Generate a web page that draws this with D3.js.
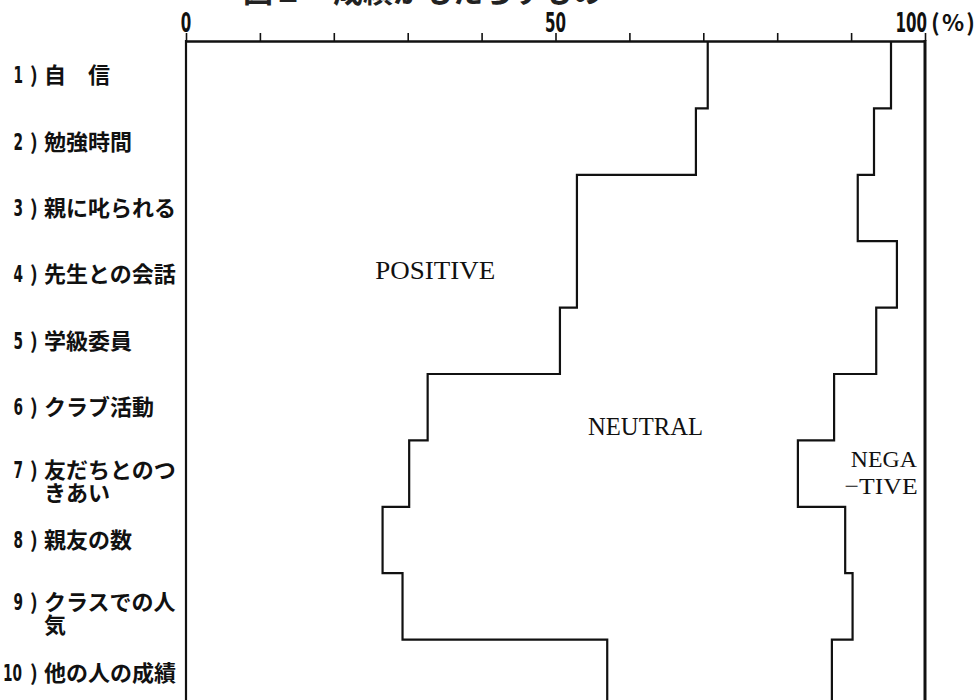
<!DOCTYPE html>
<html>
<head>
<meta charset="utf-8">
<script src="https://cdn.jsdelivr.net/npm/d3@7"></script>
<style>
  body { margin: 0; background: #fff; }
  svg { display: block; }
</style>
</head>
<body>
<svg id="chart" width="979" height="700"></svg>
<script>
// 項目 (番号とラベル)
const itemNumbers = ["1", "2", "3", "4", "5", "6", "7", "8", "9", "10"];
const itemLabels = [
  ["自　信"],
  ["勉強時間"],
  ["親に叱られる"],
  ["先生との会話"],
  ["学級委員"],
  ["クラブ活動"],
  ["友だちとのつ", "きあい"],
  ["親友の数"],
  ["クラスでの人", "気"],
  ["他の人の成績"]
];
// 割合 (%)
const positive = [70.6, 69.0, 52.9, 52.9, 50.6, 32.7, 30.2, 26.6, 29.3, 57.0];
const negative = [4.6, 6.9, 9.1, 3.8, 6.6, 12.3, 17.2, 10.8, 9.8, 12.6];
const minorTicks = [0, 10, 20, 30, 40, 50, 60, 70, 80, 90, 100];
const tickLabels = [0, 50, 100];
const title = "図２　成績がもたらすもの";

function drawChart() {
  const svg = d3.select("#chart");
  const margin = { top: 42, right: 54, bottom: -6, left: 186 };
  const width = 979, height = 700;
  const narrow = "'Liberation Sans Narrow', 'DejaVu Sans Condensed', sans-serif";
  const gothic = "'Noto Sans CJK JP', sans-serif";
  const serif = "'Liberation Serif', 'DejaVu Serif', serif";

  const x = d3.scaleLinear()
    .domain([0, 100])
    .range([margin.left, width - margin.right]);

  const y = d3.scaleBand()
    .domain(itemNumbers)
    .range([margin.top, height - margin.bottom]);

  // title (cut off at top edge)
  svg.append("text")
    .attr("x", 243)
    .attr("y", 2)
    .style("font-family", gothic)
    .style("font-weight", "bold")
    .style("font-size", "30px")
    .style("fill", "#222")
    .text(title);

  // top axis with ticks every 10%
  const axis = svg.append("g")
    .attr("transform", `translate(0,${margin.top - 1})`)
    .call(d3.axisTop(x).tickValues(minorTicks).tickSize(8).tickSizeOuter(0).tickFormat(""));
  axis.select(".domain").attr("stroke", "#111").attr("stroke-width", 2.5);
  axis.selectAll(".tick line").attr("stroke", "#111").attr("stroke-width", 1.6);

  // tick labels (tall condensed digits)
  svg.selectAll(".tick-label")
    .data(tickLabels)
    .enter()
    .append("text")
    .attr("class", "tick-label")
    .attr("x", d => d === 100 ? x(d) + 2 : x(d))
    .attr("y", 32)
    .attr("text-anchor", d => d === 100 ? "end" : "middle")
    .attr("textLength", d => String(d).length * 10.5)
    .attr("lengthAdjust", "spacingAndGlyphs")
    .style("font-family", narrow)
    .style("font-weight", "bold")
    .style("font-size", "27px")
    .style("fill", "#111")
    .text(d => d);

  svg.append("text")
    .attr("x", x(100) + 6)
    .attr("y", 31)
    .attr("textLength", 44)
    .attr("lengthAdjust", "spacing")
    .style("font-family", gothic)
    .style("font-weight", "bold")
    .style("font-size", "23px")
    .style("fill", "#111")
    .text("(%)");

  // frame: left and right borders
  svg.append("line")
    .attr("x1", x(0)).attr("x2", x(0))
    .attr("y1", margin.top - 2).attr("y2", height)
    .attr("stroke", "#111").attr("stroke-width", 2.2);

  svg.append("line")
    .attr("x1", x(100)).attr("x2", x(100))
    .attr("y1", margin.top - 2).attr("y2", height)
    .attr("stroke", "#111").attr("stroke-width", 3);

  // step boundaries
  const line = d3.line().x(d => d[0]).y(d => d[1]);

  const posPoints = [];
  const negPoints = [];
  itemNumbers.forEach((n, i) => {
    const top = y(n), bottom = y(n) + y.bandwidth();
    posPoints.push([x(positive[i]), top], [x(positive[i]), bottom]);
    negPoints.push([x(100 - negative[i]), top], [x(100 - negative[i]), bottom]);
  });

  svg.append("path")
    .attr("d", line(posPoints))
    .attr("fill", "none")
    .attr("stroke", "#111")
    .attr("stroke-width", 2.2);

  svg.append("path")
    .attr("d", line(negPoints))
    .attr("fill", "none")
    .attr("stroke", "#111")
    .attr("stroke-width", 2.2);

  // row labels
  const rows = svg.selectAll(".row-label")
    .data(itemNumbers)
    .enter()
    .append("g")
    .attr("class", "row-label")
    .attr("transform", d => `translate(0,${y(d) + y.bandwidth() / 2})`);

  const firstBase = (d, i) => itemLabels[i].length > 1 ? 4 : 8;

  rows.append("text")
    .attr("x", d => d.length > 1 ? 22 : 23)
    .attr("y", firstBase)
    .attr("text-anchor", "end")
    .attr("textLength", d => d.length * 9.5)
    .attr("lengthAdjust", "spacingAndGlyphs")
    .style("font-family", narrow)
    .style("font-weight", "bold")
    .style("font-size", "23px")
    .style("fill", "#111")
    .text(d => d);

  rows.append("text")
    .attr("x", 30)
    .attr("y", firstBase)
    .style("font-family", gothic)
    .style("font-weight", "bold")
    .style("font-size", "21px")
    .style("fill", "#111")
    .text(")");

  rows.each(function(d, i) {
    const g = d3.select(this);
    itemLabels[i].forEach((t, j) => {
      g.append("text")
        .attr("x", 44)
        .attr("y", itemLabels[i].length > 1 ? 4 + j * 23 : 8)
        .style("font-family", gothic)
        .style("font-weight", "bold")
        .style("font-size", "22px")
        .style("fill", "#111")
        .text(t);
    });
  });

  // region labels
  svg.append("text")
    .attr("x", x(25.6))
    .attr("y", y("4") + 38)
    .attr("textLength", 120)
    .attr("lengthAdjust", "spacingAndGlyphs")
    .style("font-family", serif)
    .style("font-size", "26px")
    .style("fill", "#111")
    .text("POSITIVE");

  svg.append("text")
    .attr("x", x(54.4))
    .attr("y", y("7") - 5)
    .attr("textLength", 115)
    .attr("lengthAdjust", "spacingAndGlyphs")
    .style("font-family", serif)
    .style("font-size", "25px")
    .style("fill", "#111")
    .text("NEUTRAL");

  svg.append("text")
    .attr("x", x(98.9))
    .attr("y", y("7") + 27)
    .attr("text-anchor", "end")
    .attr("textLength", 66)
    .attr("lengthAdjust", "spacingAndGlyphs")
    .style("font-family", serif)
    .style("font-size", "24px")
    .style("fill", "#111")
    .text("NEGA");

  svg.append("text")
    .attr("x", x(99.0))
    .attr("y", y("7") + 54)
    .attr("text-anchor", "end")
    .attr("textLength", 73)
    .attr("lengthAdjust", "spacingAndGlyphs")
    .style("font-family", serif)
    .style("font-size", "24px")
    .style("fill", "#111")
    .text("−TIVE");
}

drawChart();
</script>
</body>
</html>
